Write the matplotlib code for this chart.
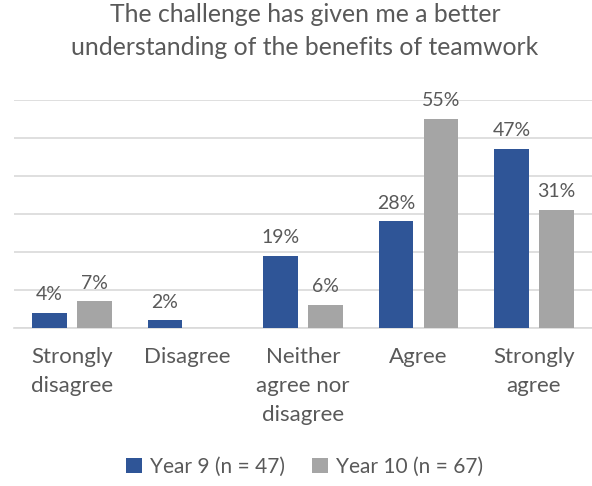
import numpy as np
import matplotlib.pyplot as plt

plt.rcParams['font.family'] = ['Lato', 'DejaVu Sans']

categories = ['Strongly\ndisagree', 'Disagree', 'Neither\nagree nor\ndisagree', 'Agree', 'Strongly\nagree']
year9 = [4, 2, 19, 28, 47]
year10 = [7, 0, 6, 55, 31]
year9_labels = ['4%', '2%', '19%', '28%', '47%']
year10_labels = ['7%', '', '6%', '55%', '31%']
series_names = ['Year 9 (n = 47)', 'Year 10 (n = 67)']

blue = '#2F5597'
grey = '#A5A5A5'
text_col = '#595959'

fig = plt.figure(figsize=(5.92, 4.86), dpi=100)
ax = fig.add_axes([0.0236, 0.325, 0.976, 0.470])

x = np.arange(len(categories))
w = 0.30
off = 0.194
b1 = ax.bar(x - off, year9, w, color=blue, label=series_names[0], zorder=3)
b2 = ax.bar(x + off, year10, w, color=grey, label=series_names[1], zorder=3)

for bars, labs in ((b1, year9_labels), (b2, year10_labels)):
    for b, lab in zip(bars, labs):
        if lab:
            ax.annotate(lab, (b.get_x() + b.get_width() / 2, b.get_height()),
                        xytext=(0, 7), textcoords='offset points',
                        ha='center', va='bottom', fontsize=14, color=text_col)

ax.set_xlim(-0.5, 4.5)
ax.set_ylim(0, 60)
ax.set_yticks(np.arange(0, 61, 10))
ax.yaxis.grid(True, color='#D9D9D9', linewidth=1.2, zorder=0)
ax.set_yticklabels([])
ax.tick_params(axis='y', length=0)
ax.set_xticks(x)
ax.set_xticklabels(categories, fontsize=16, color=text_col, linespacing=1.55)
ax.tick_params(axis='x', length=0, pad=14)
for s in ['top', 'right', 'left']:
    ax.spines[s].set_visible(False)
ax.spines['bottom'].set_color('#D9D9D9')
ax.spines['bottom'].set_linewidth(1.2)

fig.suptitle('The challenge has given me a better\nunderstanding of the benefits of teamwork',
             x=0.515, y=0.993, fontsize=17.8, color=text_col, linespacing=1.5)

fig.legend(loc='lower center', bbox_to_anchor=(0.515, -0.02), ncol=2, frameon=False,
           fontsize=15, handlelength=0.75, handleheight=0.75, handletextpad=0.4,
           columnspacing=1.3, labelcolor=text_col)

fig.savefig('out.png', dpi=100)
